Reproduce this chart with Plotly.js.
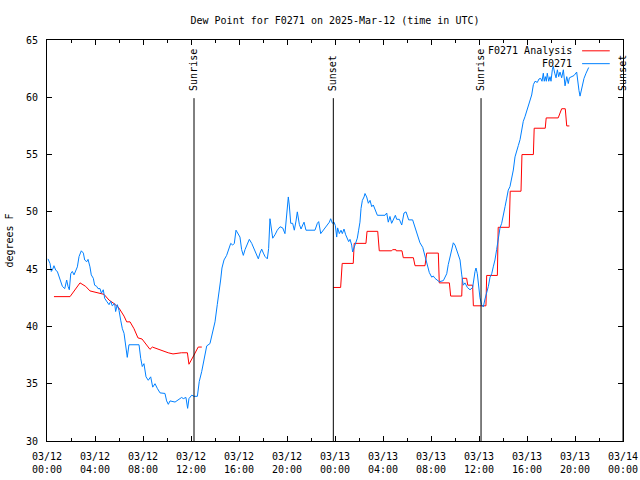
<!DOCTYPE html>
<html>
<head>
<meta charset="utf-8">
<script src="https://cdn.plot.ly/plotly-3.0.1.min.js"></script>
<style>html,body{margin:0;padding:0;background:#fff;}#chart{width:640px;height:480px;}</style>
</head>
<body>
<div id="chart"></div>
<script>
// ---- Data (hours since 2025-03-12 00:00 UTC, dew point in °F) ----
const analysisHours = [0.58,1.92,2.75,3.22,3.58,3.92,4.33,4.75,5.17,5.58,6.0,6.42,6.64,6.92,7.25,7.58,7.92,8.31,8.58,8.78,9.42,10.1,10.5,11.2,11.7,11.83,12.25,12.6,12.9,
  null,
  23.86,24.47,24.6,25.52,25.6,26.58,26.67,27.56,27.69,28.72,28.8,29.08,29.1,29.58,29.69,30.53,30.67,31.5,31.64,32.61,32.69,33.53,33.64,34.56,34.61,34.97,35.06,35.47,35.53,36.58,36.64,37.53,37.6,38.52,38.6,39.5,39.58,40.53,40.6,41.52,41.6,42.6,42.89,43.19,43.31,43.53];
const analysisDewF = [42.6,42.6,43.8,43.5,43.1,43.0,42.9,42.8,42.3,42.0,41.6,40.9,40.4,40.4,39.8,39.0,38.9,38.4,38.0,38.2,37.95,37.7,37.6,37.7,37.7,36.7,37.5,38.2,38.2,
  null,
  43.4,43.4,45.5,45.5,47.25,47.25,48.3,48.3,46.6,46.6,46.7,46.7,46.6,46.6,46.0,46.0,45.3,45.3,46.4,46.4,43.8,43.8,42.65,42.65,44.2,44.2,43.6,43.6,41.8,41.8,44.45,44.45,48.65,48.65,51.8,51.8,55.0,55.0,57.3,57.3,58.2,58.2,59.0,59.0,57.5,57.5];

const obsHours = [0.08,0.25,0.36,0.48,0.58,0.73,0.86,1.0,1.14,1.28,1.48,1.64,1.75,1.86,1.98,2.11,2.25,2.39,2.53,2.67,2.86,3.03,3.14,3.31,3.42,3.58,3.69,3.86,3.97,4.14,4.25,4.42,4.53,4.69,4.81,4.97,5.17,5.31,5.44,5.64,5.72,5.86,6.0,6.14,6.28,6.42,6.56,6.69,6.83,7.67,7.81,7.94,8.08,8.25,8.44,8.64,8.81,9.0,9.19,9.42,9.83,9.97,10.11,10.25,10.67,10.94,11.22,11.36,11.58,11.72,11.83,12.06,12.25,12.53,12.69,12.89,13.08,13.31,13.58,13.81,14.0,14.19,14.36,14.47,14.58,14.75,14.97,15.19,15.31,15.47,15.61,15.75,15.94,16.08,16.22,16.36,16.5,16.64,16.86,17.06,17.25,17.42,17.61,17.75,17.89,18.03,18.17,18.36,18.47,18.58,18.67,18.81,19.0,19.19,19.42,19.64,19.83,19.97,20.11,20.19,20.31,20.47,20.61,20.75,20.86,21.03,21.17,21.31,21.42,21.58,22.33,22.53,22.64,22.81,23.03,23.31,23.53,23.64,23.78,23.92,24.03,24.14,24.22,24.36,24.5,24.61,24.75,24.89,25.03,25.14,25.25,25.39,25.47,25.61,25.75,25.86,25.97,26.08,26.17,26.28,26.42,26.5,26.64,26.78,26.92,27.06,27.19,27.33,27.53,28.17,28.31,28.44,28.58,28.72,28.86,29.03,29.14,29.36,29.56,29.75,29.92,30.03,30.14,30.47,30.67,30.81,30.94,31.08,31.31,31.5,31.69,31.86,32.06,32.19,32.33,32.69,33.03,33.31,33.44,33.58,33.72,33.86,34.0,34.28,34.42,34.56,34.69,34.83,35.03,35.25,35.47,35.67,35.75,35.86,35.97,36.08,36.22,36.36,36.5,36.64,36.78,36.92,37.06,37.19,37.33,37.47,37.61,37.75,37.89,38.03,38.17,38.31,38.44,38.58,38.72,38.86,39.0,39.14,39.28,39.42,39.56,39.69,39.83,39.97,40.11,40.25,40.39,40.53,40.67,40.86,41.0,41.14,41.25,41.36,41.44,41.53,41.61,41.69,41.81,41.92,42.0,42.11,42.19,42.31,42.42,42.53,42.64,42.75,42.89,43.03,43.17,43.31,43.44,43.53,43.72,43.92,44.14,44.22,44.33,44.42,44.56,44.64,44.75,44.92,45.03,45.14];
const obsDewF = [45.9,45.5,44.8,45.0,45.3,44.9,44.8,44.35,43.9,43.5,43.3,44.05,43.5,43.2,44.6,44.8,44.5,44.9,45.2,46.1,46.6,46.4,45.8,45.65,45.85,45.2,44.5,44.2,43.6,43.5,43.3,43.3,42.9,43.2,42.45,42.2,41.9,42.2,41.8,42.0,41.3,41.9,41.4,40.55,39.8,39.4,38.5,37.3,38.4,38.4,37.2,36.5,36.75,35.6,35.3,35.6,34.7,35.0,34.6,34.2,34.15,33.5,33.2,33.5,33.4,33.6,33.8,33.7,33.8,32.85,33.7,34.0,33.9,33.9,35.2,36.05,37.1,38.3,38.5,39.7,40.4,41.9,43.1,44.05,45.1,45.8,46.2,46.8,47.25,47.1,47.25,48.4,48.1,47.8,46.7,46.2,46.7,47.1,47.6,47.25,46.8,46.5,45.9,46.4,46.75,46.4,46.1,45.9,46.8,49.4,48.7,47.7,48.0,48.4,48.7,48.6,48.1,49.7,51.3,50.6,49.0,49.0,48.4,49.2,50.0,48.9,48.5,48.85,49.1,48.4,48.4,49.0,49.15,48.1,48.4,48.7,49.1,49.4,49.0,49.1,48.8,47.8,48.6,48.1,48.4,48.1,48.5,48.0,47.55,47.4,47.6,47.1,46.5,46.9,47.3,47.7,48.4,49.1,50.3,51.0,51.3,51.6,51.3,50.75,51.0,50.45,50.6,50.2,49.7,49.7,49.9,49.1,49.6,49.0,49.4,49.7,49.35,49.35,48.85,49.9,50.0,49.6,49.3,49.3,48.6,48.3,47.7,47.3,46.9,46.2,45.3,44.7,44.3,44.4,44.2,43.9,44.0,44.6,45.4,46.0,46.8,47.3,47.1,46.3,45.8,44.5,43.6,43.8,43.4,43.2,43.4,44.8,45.1,44.6,43.4,42.5,41.9,41.7,42.4,42.9,43.5,44.3,44.6,45.2,45.8,46.7,47.7,48.6,49.0,49.9,50.45,51.2,51.9,52.2,52.9,53.65,54.8,55.4,55.8,56.3,57.1,57.9,58.3,58.75,59.3,59.8,60.2,61.1,61.4,61.3,61.6,61.65,61.4,62.1,61.4,61.8,61.4,62.1,61.4,61.8,61.4,62.4,62.7,62.1,61.7,62.4,61.8,62.2,61.7,62.4,61.0,61.8,61.2,61.7,61.8,61.9,62.2,61.2,60.6,60.1,60.8,61.2,61.65,62.1,62.4,62.6];

const eventNames = ["Sunrise","Sunset","Sunrise","Sunset"];
const eventHours = [12.25,23.86,36.17,48.0];

const xTickStart = "2025-03-12 00:00";
const xTickEnd = "2025-03-14 00:00";
const yRange = [30,65];
const seriesNames = ["F0271 Analysis","F0271"];
const seriesColors = ["#ff0000","#0080ff"];

// ---- helpers ----
const base = Date.UTC(2025,2,12,0,0,0);
function pad(n){return (n<10?"0":"")+n;}
function hToDate(h){
  if(h===null) return null;
  const d = new Date(base + Math.round(h*3600)*1000);
  return d.getUTCFullYear()+"-"+pad(d.getUTCMonth()+1)+"-"+pad(d.getUTCDate())+" "+pad(d.getUTCHours())+":"+pad(d.getUTCMinutes())+":"+pad(d.getUTCSeconds());
}

const FONT = {family:"DejaVu Sans Mono, Liberation Mono, monospace", size:10, color:"#000"};

const traces = [
  {x: analysisHours.map(hToDate), y: analysisDewF, type:"scatter", mode:"lines", name:seriesNames[0],
   line:{color:seriesColors[0], width:1}, connectgaps:false, hoverinfo:"x+y"},
  {x: obsHours.map(hToDate), y: obsDewF, type:"scatter", mode:"lines", name:seriesNames[1],
   line:{color:seriesColors[1], width:1}, connectgaps:false, hoverinfo:"x+y"}
];

const shapes = [];
const annotations = [];
eventHours.forEach((h,i)=>{
  shapes.push({type:"line", xref:"x", yref:"paper", x0:hToDate(h), x1:hToDate(h), y0:0, y1:0.855,
    line:{color:"#000", width:1}});
  annotations.push({xref:"x", yref:"paper", x:hToDate(h), y:0.868, text:eventNames[i], textangle:-90,
    showarrow:false, xanchor:"center", yanchor:"bottom", font:FONT});
});
// legend (gnuplot style: text then line sample on the right)
const legendY = [0.973, 0.941];
seriesNames.forEach((nm,i)=>{
  annotations.push({xref:"paper", yref:"paper", x:0.915, y:legendY[i], text:nm, showarrow:false,
    xanchor:"right", yanchor:"middle", font:FONT});
  shapes.push({type:"line", xref:"paper", yref:"paper", x0:0.929, x1:0.977, y0:legendY[i], y1:legendY[i],
    line:{color:seriesColors[i], width:1}});
});

const layout = {
  width:640, height:480,
  margin:{l:47, r:17, t:40, b:39, pad:0},
  paper_bgcolor:"#fff", plot_bgcolor:"#fff",
  showlegend:false,
  font:FONT,
  title:{text:"Dew Point for F0271 on 2025-Mar-12 (time in UTC)", font:FONT, x:0.5, xref:"paper", xanchor:"center", y:0.958, yref:"container", yanchor:"middle"},
  xaxis:{type:"date", range:[xTickStart, xTickEnd], tick0:xTickStart, dtick:4*3600000,
    tickformat:"%m/%d<br>%H:%M", ticks:"inside", ticklen:5, tickcolor:"#000", tickwidth:1,
    minor:{dtick:2*3600000, ticks:"inside", ticklen:3, tickcolor:"#000", showgrid:false},
    showline:true, linecolor:"#000", linewidth:1, mirror:"allticks", showgrid:false, zeroline:false,
    tickfont:FONT, ticklabelstandoff:6, automargin:false},
  yaxis:{range:yRange, dtick:5, tick0:30, ticks:"inside", ticklen:5, tickcolor:"#000", tickwidth:1,
    showline:true, linecolor:"#000", linewidth:1, mirror:"allticks", showgrid:false, zeroline:false,
    tickfont:FONT, ticklabelstandoff:6, automargin:false,
    title:{text:"degrees F", font:FONT, standoff:10}},
  shapes:shapes, annotations:annotations
};

Plotly.newPlot("chart", traces, layout, {displayModeBar:false, staticPlot:true});
</script>
</body>
</html>
